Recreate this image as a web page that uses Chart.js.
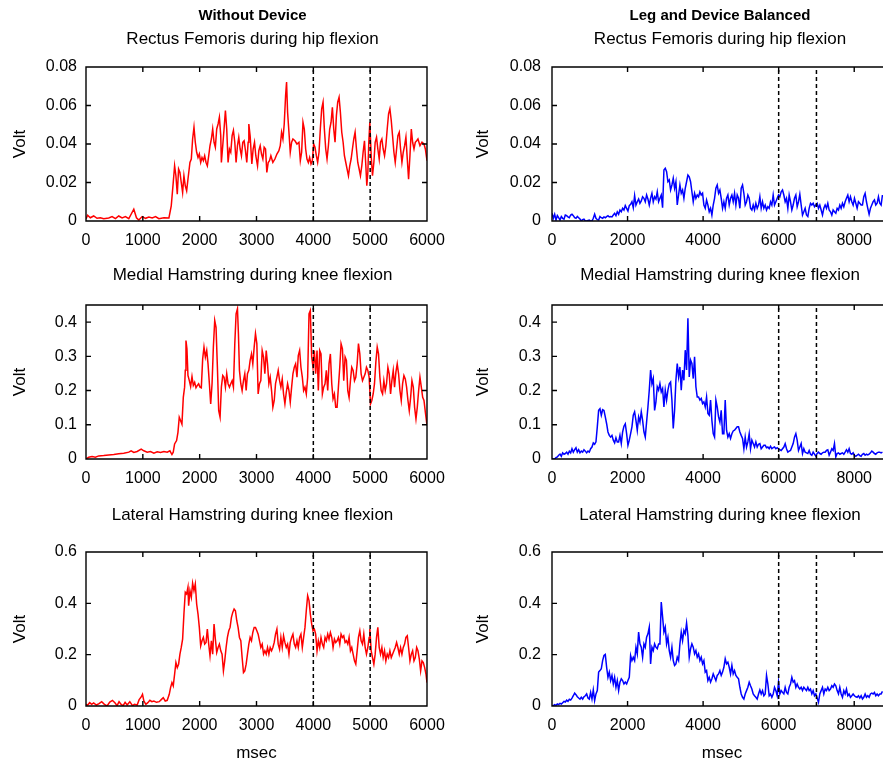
<!DOCTYPE html>
<html>
<head>
<meta charset="utf-8">
<script src="https://cdn.jsdelivr.net/npm/chart.js"></script>
<style>
  html, body { margin: 0; padding: 0; overflow: hidden; background: #fff; }
  body { position: relative; width: 883px; height: 766px; }
  canvas { position: absolute; }
</style>
</head>
<body>
<canvas id="rfWithout" width="460" height="258" style="left:0;top:0"></canvas>
<canvas id="rfBalanced" width="460" height="258" style="left:452px;top:0"></canvas>
<canvas id="mhWithout" width="460" height="240" style="left:0;top:258px"></canvas>
<canvas id="mhBalanced" width="460" height="240" style="left:452px;top:258px"></canvas>
<canvas id="lhWithout" width="460" height="268" style="left:0;top:498px"></canvas>
<canvas id="lhBalanced" width="460" height="268" style="left:452px;top:498px"></canvas>
<script>
// ---- EMG envelopes (Volt) ----

// Without device: sample times (msec) and values
const rfWithoutMs = [0,29,76,135,194,253,312,400,459,518,576,635,694,753,794,841,888,929,988,1047,1106,1165,1224,1282,1371,1459,1500,1535,1559,1582,1606,1629,1653,1676,1700,1723,1747,1771,1794,1829,1853,1876,1900,1923,1947,1971,1994,2018,2041,2065,2088,2112,2135,2159,2182,2206,2229,2253,2276,2300,2324,2347,2371,2382,2406,2429,2453,2476,2500,2524,2547,2571,2594,2618,2641,2665,2688,2712,2735,2759,2782,2806,2829,2853,2865,2888,2918,2941,2965,2988,3018,3041,3065,3088,3112,3135,3159,3182,3206,3229,3253,3288,3324,3359,3394,3418,3441,3465,3488,3512,3529,3547,3571,3594,3618,3641,3676,3712,3747,3771,3794,3818,3841,3865,3888,3912,3935,3959,3982,4006,4029,4053,4076,4100,4123,4147,4171,4194,4218,4241,4265,4288,4312,4335,4359,4382,4406,4429,4453,4476,4500,4524,4547,4571,4594,4618,4641,4665,4688,4712,4735,4759,4782,4806,4829,4853,4876,4900,4924,4941,4959,4976,4994,5018,5041,5065,5088,5112,5135,5159,5182,5206,5229,5253,5276,5300,5324,5347,5371,5394,5418,5441,5465,5488,5512,5535,5559,5582,5606,5629,5653,5676,5700,5724,5747,5771,5794,5818,5841,5876,5912,5947,5971,6000];
const rfWithoutVolt = [0.001,0.003,0.0017,0.0026,0.0014,0.0017,0.0012,0.0016,0.0023,0.0012,0.0026,0.0016,0.0023,0.0012,0.0035,0.0061,0.0017,0.0005,0.0023,0.0014,0.0021,0.0016,0.0023,0.0012,0.0017,0.0016,0.0078,0.020,0.0287,0.0235,0.0139,0.027,0.0252,0.020,0.0148,0.0235,0.0183,0.0157,0.0217,0.0304,0.0322,0.0426,0.0487,0.0409,0.0357,0.033,0.0348,0.0304,0.033,0.0313,0.0339,0.0304,0.0287,0.0339,0.0391,0.0426,0.0478,0.0409,0.0383,0.0478,0.0504,0.0539,0.0443,0.0304,0.0391,0.0478,0.0574,0.0478,0.0304,0.0374,0.0357,0.0443,0.047,0.0409,0.0304,0.0391,0.0435,0.0374,0.0339,0.0409,0.0417,0.0365,0.0304,0.0409,0.0504,0.0443,0.0296,0.0374,0.0409,0.0339,0.0287,0.0365,0.0391,0.0348,0.0322,0.0383,0.0374,0.0252,0.0304,0.0313,0.0339,0.0304,0.0322,0.0348,0.0365,0.0391,0.0461,0.0426,0.0504,0.0652,0.0722,0.0565,0.0461,0.0357,0.0409,0.0426,0.0417,0.040,0.0409,0.0313,0.0357,0.0513,0.0478,0.0374,0.0322,0.0304,0.033,0.0296,0.0313,0.040,0.0383,0.0339,0.0304,0.0357,0.0478,0.0583,0.0617,0.0478,0.0374,0.0322,0.0391,0.0478,0.0513,0.0591,0.0478,0.0409,0.0548,0.0617,0.0643,0.0565,0.0461,0.0409,0.0339,0.0304,0.027,0.0235,0.0287,0.0322,0.0374,0.0426,0.0461,0.0374,0.0304,0.027,0.0235,0.0287,0.0357,0.0417,0.0287,0.0183,0.0252,0.0409,0.0513,0.0339,0.0235,0.0304,0.0409,0.0435,0.0374,0.0322,0.0409,0.0426,0.0374,0.0339,0.0391,0.0478,0.0557,0.0583,0.0522,0.0443,0.0357,0.0304,0.0374,0.0443,0.0461,0.0374,0.0304,0.0357,0.0391,0.0435,0.0322,0.0217,0.0339,0.0478,0.0409,0.0374,0.0409,0.0417,0.0426,0.0391,0.0409,0.040,0.0374,0.0313];

const mhWithoutMs = [0,47,106,165,224,312,400,488,576,665,753,794,841,900,971,1018,1076,1135,1194,1253,1312,1371,1429,1476,1512,1535,1559,1594,1618,1641,1665,1688,1712,1735,1747,1759,1776,1794,1818,1841,1865,1888,1912,1935,1959,1982,2006,2029,2053,2076,2100,2124,2147,2171,2194,2218,2241,2265,2288,2312,2335,2359,2382,2406,2429,2453,2476,2500,2524,2547,2571,2594,2618,2641,2665,2682,2700,2724,2747,2771,2794,2818,2841,2865,2888,2912,2935,2959,2982,3006,3029,3053,3076,3100,3124,3147,3171,3194,3218,3241,3265,3288,3312,3335,3359,3382,3406,3429,3453,3476,3500,3524,3547,3571,3594,3618,3641,3665,3688,3712,3735,3759,3782,3806,3829,3853,3876,3900,3924,3947,3971,3994,4018,4041,4065,4088,4112,4135,4159,4182,4206,4229,4253,4276,4300,4324,4347,4371,4394,4418,4441,4465,4488,4512,4535,4559,4582,4606,4629,4653,4676,4700,4724,4747,4771,4794,4818,4841,4865,4888,4912,4935,4959,4982,5006,5029,5053,5076,5100,5124,5147,5171,5194,5218,5241,5265,5288,5312,5335,5359,5382,5406,5429,5453,5476,5500,5524,5547,5571,5594,5618,5641,5665,5688,5712,5735,5759,5782,5806,5829,5853,5876,5900,5924,5947,5971,6000];
const mhWithoutVolt = [0,0.005,0.007,0.005,0.009,0.010,0.012,0.013,0.015,0.017,0.020,0.024,0.019,0.022,0.029,0.024,0.020,0.022,0.017,0.021,0.019,0.022,0.020,0.024,0.013,0.020,0.044,0.054,0.078,0.122,0.112,0.102,0.180,0.210,0.259,0.346,0.322,0.244,0.229,0.212,0.241,0.215,0.224,0.208,0.215,0.220,0.210,0.208,0.293,0.327,0.298,0.317,0.278,0.220,0.161,0.220,0.327,0.405,0.385,0.268,0.141,0.122,0.210,0.244,0.239,0.210,0.249,0.220,0.210,0.220,0.229,0.210,0.337,0.424,0.439,0.366,0.259,0.220,0.200,0.229,0.249,0.200,0.249,0.259,0.288,0.307,0.278,0.327,0.366,0.337,0.190,0.220,0.229,0.317,0.298,0.249,0.317,0.278,0.220,0.239,0.200,0.151,0.171,0.220,0.239,0.259,0.229,0.210,0.234,0.190,0.161,0.195,0.220,0.200,0.166,0.210,0.249,0.268,0.278,0.239,0.302,0.317,0.268,0.239,0.200,0.210,0.190,0.239,0.424,0.434,0.298,0.268,0.317,0.249,0.317,0.200,0.317,0.307,0.190,0.210,0.220,0.259,0.200,0.278,0.307,0.220,0.176,0.190,0.151,0.151,0.210,0.268,0.337,0.322,0.229,0.298,0.288,0.200,0.180,0.229,0.268,0.259,0.229,0.239,0.278,0.337,0.307,0.249,0.229,0.239,0.249,0.268,0.259,0.239,0.161,0.171,0.190,0.220,0.283,0.327,0.307,0.239,0.200,0.190,0.229,0.200,0.220,0.268,0.249,0.190,0.229,0.259,0.210,0.254,0.278,0.249,0.200,0.171,0.220,0.244,0.234,0.210,0.171,0.141,0.180,0.229,0.210,0.151,0.117,0.151,0.200,0.239,0.210,0.180,0.171,0.137,0.098];

const lhWithoutMs = [0,29,65,100,135,182,229,276,324,371,418,465,512,547,582,618,653,688,724,771,818,853,900,935,971,994,1018,1053,1088,1124,1159,1194,1241,1288,1324,1359,1394,1429,1465,1488,1512,1535,1559,1582,1606,1629,1653,1676,1700,1723,1747,1771,1794,1806,1829,1853,1876,1900,1923,1947,1971,1994,2018,2041,2065,2088,2112,2135,2159,2182,2206,2229,2253,2276,2300,2324,2347,2371,2394,2418,2441,2465,2488,2512,2535,2559,2582,2606,2629,2653,2676,2700,2724,2747,2771,2794,2818,2841,2865,2888,2912,2935,2959,2982,3006,3029,3053,3076,3100,3124,3147,3171,3194,3218,3241,3265,3288,3312,3335,3359,3382,3406,3429,3453,3476,3500,3524,3547,3571,3594,3618,3641,3665,3688,3712,3735,3759,3782,3806,3829,3853,3876,3900,3924,3947,3971,3994,4018,4041,4065,4088,4112,4135,4159,4182,4206,4229,4253,4276,4300,4324,4347,4371,4394,4418,4441,4465,4488,4512,4535,4559,4582,4606,4629,4653,4676,4700,4724,4747,4771,4794,4818,4841,4865,4888,4912,4935,4959,4982,4994,5018,5041,5065,5088,5112,5135,5159,5182,5206,5229,5253,5276,5300,5324,5347,5371,5394,5418,5441,5465,5488,5512,5535,5559,5582,5606,5629,5653,5676,5700,5724,5747,5771,5794,5818,5841,5865,5888,5912,5935,5959,5982,6000];
const lhWithoutVolt = [0.0065,0.0039,0.013,0.0065,0.0117,0.0039,0.0091,0.0169,0.0065,0,0.0156,0.0221,0.0117,0.0013,0.0169,0.0065,0.0013,0.0143,0.0039,0.0169,0.0013,0.0065,0.0039,0.0248,0.0352,0.0456,0.0195,0.0065,0.013,0.0221,0.0169,0.0195,0.0143,0.0169,0.0248,0.0326,0.0195,0.0221,0.0456,0.0717,0.0912,0.0782,0.1238,0.1694,0.1498,0.1629,0.202,0.228,0.2606,0.3583,0.443,0.4365,0.4625,0.3909,0.4495,0.4235,0.4782,0.4495,0.4756,0.3974,0.3583,0.3062,0.2345,0.2541,0.2671,0.241,0.2476,0.2997,0.241,0.1954,0.2541,0.202,0.3192,0.2606,0.2085,0.228,0.241,0.215,0.202,0.1368,0.1759,0.228,0.2671,0.2932,0.3062,0.3453,0.3648,0.3779,0.3713,0.3322,0.3062,0.2671,0.2541,0.1889,0.1303,0.1368,0.1629,0.202,0.241,0.2671,0.2541,0.2866,0.3062,0.3062,0.2932,0.2801,0.2541,0.228,0.241,0.202,0.215,0.202,0.228,0.202,0.228,0.215,0.228,0.2476,0.2801,0.2997,0.241,0.2215,0.2671,0.228,0.2736,0.2476,0.228,0.241,0.202,0.2476,0.2671,0.2801,0.241,0.228,0.2541,0.228,0.2671,0.2801,0.228,0.2671,0.3062,0.3713,0.43,0.4104,0.3583,0.3192,0.2932,0.2997,0.2801,0.215,0.2541,0.228,0.2671,0.241,0.228,0.2671,0.2541,0.2801,0.2606,0.2866,0.2671,0.228,0.2606,0.2476,0.2541,0.2671,0.241,0.2801,0.2671,0.2736,0.2476,0.2541,0.241,0.2671,0.215,0.228,0.202,0.1759,0.1629,0.215,0.2671,0.2932,0.2541,0.241,0.2801,0.228,0.202,0.228,0.2671,0.2997,0.215,0.1889,0.1629,0.202,0.2671,0.3062,0.228,0.202,0.228,0.1889,0.215,0.1759,0.202,0.1889,0.215,0.1889,0.202,0.215,0.228,0.2476,0.228,0.202,0.228,0.202,0.228,0.241,0.2671,0.2736,0.228,0.1759,0.202,0.215,0.1759,0.1889,0.228,0.215,0.1824,0.1368,0.1759,0.1694,0.1498,0.1238,0.0912];

// Leg and device balanced: evenly sampled, one value every balancedStepMs
const balancedStepMs = 35.27;
const rfBalancedVolt = [0.004,0.0014,0.0035,0.0005,0.0028,0.0017,0.0005,0.0023,0.0014,0.001,0.0031,0.0028,0.0021,0.0017,0.0031,0.0035,0.0028,0.0017,0.0014,0.0024,0.0017,0.001,0,0.0007,0.001,0,0,0.0003,0.0005,0,0,0.0014,0.0035,0.0014,0.0007,0.0005,0.0023,0.0017,0.0014,0.0021,0.0017,0.0023,0.0028,0.0021,0.0023,0.0021,0.0031,0.004,0.0028,0.0048,0.0035,0.0057,0.0048,0.0066,0.0057,0.008,0.0066,0.0052,0.008,0.0087,0.01,0.0069,0.0132,0.0083,0.01,0.0114,0.0092,0.0104,0.0126,0.0118,0.01,0.0135,0.0114,0.0083,0.0118,0.0144,0.01,0.0126,0.0114,0.0152,0.01,0.0118,0.0135,0.0069,0.0265,0.0274,0.0256,0.0204,0.0213,0.0161,0.0187,0.0222,0.017,0.0204,0.0083,0.0135,0.0187,0.0144,0.0161,0.0118,0.017,0.0204,0.0239,0.023,0.0204,0.0152,0.01,0.0144,0.0118,0.0135,0.0126,0.0152,0.0135,0.0144,0.0083,0.0066,0.0109,0.0083,0.0048,0.0066,0.0031,0.0083,0.0118,0.017,0.0187,0.0144,0.0161,0.0118,0.0066,0.01,0.0066,0.0118,0.0135,0.0083,0.0118,0.0135,0.01,0.0144,0.0083,0.0135,0.0118,0.0066,0.017,0.0187,0.0144,0.0083,0.01,0.0135,0.0118,0.0066,0.0057,0.0083,0.0057,0.0092,0.0066,0.0083,0.0126,0.0066,0.01,0.0066,0.0083,0.0057,0.0074,0.0066,0.01,0.0083,0.0135,0.0083,0.01,0.0118,0.0135,0.0126,0.0152,0.0161,0.0135,0.01,0.0118,0.0066,0.0135,0.01,0.0057,0.0083,0.0118,0.0135,0.0074,0.01,0.0139,0.0083,0.0031,0.0048,0.0066,0.0031,0.0023,0.0066,0.0092,0.0083,0.0092,0.0074,0.0083,0.0092,0.0066,0.0083,0.0057,0.0031,0.0066,0.0083,0.0066,0.0092,0.0057,0.0048,0.0031,0.0057,0.0048,0.004,0.0066,0.0057,0.0083,0.0066,0.0092,0.0074,0.01,0.0118,0.0135,0.01,0.0126,0.01,0.0083,0.0118,0.0092,0.0066,0.01,0.0092,0.0083,0.0083,0.0126,0.0144,0.01,0.0066,0.0035,0.0066,0.0083,0.01,0.0109,0.0083,0.0092,0.0126,0.0092,0.0083,0.0135];
const mhBalancedVolt = [0,0,0,0.004,0.006,0.011,0.014,0.008,0.018,0.014,0.016,0.020,0.014,0.023,0.018,0.030,0.020,0.027,0.033,0.020,0.027,0.018,0.023,0.020,0.027,0.023,0.018,0.023,0.020,0.030,0.035,0.047,0.043,0.050,0.094,0.142,0.147,0.128,0.144,0.142,0.123,0.103,0.079,0.069,0.064,0.069,0.055,0.047,0.062,0.050,0.050,0.069,0.045,0.079,0.096,0.103,0.074,0.040,0.055,0.074,0.094,0.128,0.138,0.113,0.084,0.123,0.108,0.138,0.113,0.079,0.064,0.108,0.152,0.201,0.260,0.220,0.235,0.142,0.167,0.211,0.201,0.220,0.196,0.206,0.152,0.201,0.172,0.201,0.220,0.225,0.172,0.089,0.142,0.230,0.279,0.240,0.269,0.201,0.260,0.230,0.318,0.260,0.411,0.240,0.289,0.279,0.235,0.299,0.211,0.181,0.181,0.172,0.177,0.162,0.167,0.152,0.181,0.133,0.128,0.172,0.113,0.074,0.064,0.172,0.152,0.123,0.108,0.142,0.074,0.074,0.172,0.084,0.064,0.074,0.060,0.074,0.082,0.084,0.089,0.094,0.094,0.079,0.069,0.060,0.030,0.064,0.035,0.050,0.074,0.030,0.055,0.045,0.035,0.050,0.035,0.043,0.045,0.030,0.035,0.040,0.040,0.033,0.035,0.030,0.037,0.030,0.033,0.035,0.030,0.033,0.030,0.027,0.025,0.030,0.035,0.045,0.030,0.020,0.023,0.025,0.035,0.045,0.064,0.074,0.055,0.025,0.035,0.045,0.016,0.030,0.020,0.018,0.016,0.025,0.014,0.011,0.020,0.014,0.008,0.016,0.020,0.016,0.014,0.018,0.020,0.020,0.025,0.027,0.011,0.020,0.030,0.025,0.045,0.006,0.016,0.018,0.014,0.016,0.018,0.014,0.020,0.027,0.020,0.030,0.016,0.014,0.018,0.011,0.008,0.011,0.014,0.010,0.008,0.014,0.016,0.011,0.014,0.012,0.014,0.018,0.023,0.020,0.016,0.014,0.018,0.020,0.020,0.018,0.020];
const lhBalancedVolt = [0,0.0013,0.0052,0.0026,0.0078,0.0052,0.0104,0.0078,0.013,0.018,0.0156,0.023,0.018,0.026,0.023,0.031,0.040,0.050,0.044,0.036,0.031,0.027,0.034,0.027,0.036,0.040,0.047,0.031,0.027,0.053,0.027,0.063,0.021,0.047,0.060,0.132,0.138,0.145,0.177,0.197,0.201,0.151,0.112,0.132,0.099,0.119,0.086,0.112,0.073,0.099,0.060,0.093,0.106,0.099,0.086,0.093,0.086,0.099,0.112,0.197,0.177,0.190,0.177,0.229,0.203,0.288,0.242,0.229,0.190,0.242,0.229,0.268,0.281,0.307,0.164,0.229,0.216,0.242,0.229,0.223,0.242,0.242,0.405,0.347,0.288,0.307,0.242,0.268,0.216,0.190,0.229,0.177,0.158,0.164,0.190,0.177,0.242,0.288,0.255,0.294,0.281,0.323,0.275,0.190,0.223,0.242,0.229,0.203,0.216,0.190,0.203,0.177,0.190,0.164,0.177,0.132,0.138,0.099,0.112,0.093,0.106,0.125,0.112,0.099,0.119,0.125,0.138,0.119,0.132,0.151,0.184,0.164,0.171,0.151,0.125,0.158,0.125,0.138,0.119,0.112,0.106,0.073,0.047,0.034,0.027,0.047,0.060,0.073,0.093,0.079,0.066,0.047,0.040,0.034,0.027,0.047,0.063,0.047,0.060,0.040,0.047,0.119,0.086,0.040,0.047,0.034,0.047,0.073,0.060,0.040,0.093,0.047,0.060,0.053,0.047,0.073,0.053,0.047,0.073,0.086,0.112,0.093,0.099,0.073,0.086,0.073,0.066,0.073,0.060,0.073,0.066,0.060,0.073,0.060,0.066,0.047,0.060,0.040,0.047,0.031,0.0143,0.047,0.060,0.073,0.047,0.066,0.060,0.073,0.060,0.066,0.079,0.073,0.086,0.079,0.060,0.047,0.073,0.047,0.034,0.060,0.047,0.066,0.040,0.047,0.034,0.040,0.047,0.040,0.036,0.034,0.040,0.031,0.040,0.027,0.034,0.047,0.034,0.040,0.034,0.047,0.050,0.047,0.053,0.040,0.047,0.040,0.047,0.047,0.057];

// event markers (msec)
const withoutMarkers = [4000, 5000];
const balancedMarkers = [6000, 7000];

// x tick positions (msec)
const withoutTicks = [0, 1000, 2000, 3000, 4000, 5000, 6000];
const balancedTicks = [0, 2000, 4000, 6000, 8000];

const FONT = '"Liberation Sans", Arial, Helvetica, sans-serif';

function pairUp(times, volts) {
  return times.map((t, i) => ({ x: t, y: volts[i] }));
}

function evenlySampled(volts, stepMs) {
  return volts.map((v, i) => ({ x: i * stepMs, y: v }));
}

// box with inward ticks on all four sides, plus the panel titles
const frame = {
  id: 'frame',
  afterDatasetsDraw(chart, args, opts) {
    const { ctx, chartArea: a, scales: { x, y } } = chart;
    ctx.save();
    ctx.strokeStyle = '#000';
    ctx.lineWidth = 1.4;
    ctx.beginPath();
    x.ticks.forEach(t => {
      const px = x.getPixelForValue(t.value);
      ctx.moveTo(px, a.bottom); ctx.lineTo(px, a.bottom - 5);
      ctx.moveTo(px, a.top); ctx.lineTo(px, a.top + 5);
    });
    y.ticks.forEach(t => {
      const py = y.getPixelForValue(t.value);
      ctx.moveTo(a.left, py); ctx.lineTo(a.left + 5, py);
      ctx.moveTo(a.right, py); ctx.lineTo(a.right - 5, py);
    });
    ctx.rect(a.left, a.top, a.right - a.left, a.bottom - a.top);
    ctx.stroke();

    ctx.fillStyle = '#000';
    ctx.textAlign = 'center';
    ctx.textBaseline = 'middle';
    const cx = (a.left + a.right) / 2 + (opts.dx || 0);
    (opts.lines || []).forEach(l => {
      ctx.font = l.font;
      ctx.fillText(l.text, cx, l.y);
    });
    ctx.restore();
  }
};

function panel(id, p) {
  const markerSets = p.markers.map(m => ({
    data: [{ x: m, y: 0 }, { x: m, y: p.yMax }],
    borderColor: '#000',
    borderWidth: 1.5,
    borderDash: [4, 3],
    pointRadius: 0,
    order: 1
  }));

  new Chart(document.getElementById(id), {
    type: 'line',
    data: {
      datasets: [{
        data: p.points,
        borderColor: p.color,
        borderWidth: 1.5,
        pointRadius: 0,
        tension: 0,
        order: 2
      }, ...markerSets]
    },
    options: {
      responsive: false,
      animation: false,
      devicePixelRatio: 1,
      layout: { padding: { left: 0, right: p.right, top: p.top, bottom: 0 } },
      plugins: {
        legend: { display: false },
        tooltip: { enabled: false },
        frame: { lines: p.titles, dx: p.titleDx }
      },
      scales: {
        x: {
          type: 'linear',
          min: 0,
          max: p.xMax,
          afterBuildTicks: s => { s.ticks = p.xTicks.map(v => ({ value: v })); },
          afterFit: s => { s.height = p.xHeight; },
          grid: { display: false, drawTicks: false },
          border: { display: false },
          ticks: {
            autoSkip: false,
            maxRotation: 0,
            padding: 10,
            color: '#000',
            font: { family: FONT, size: 16 },
            callback: v => String(v)
          },
          title: {
            display: !!p.xTitle,
            text: p.xTitle || '',
            color: '#000',
            font: { family: FONT, size: 17 },
            padding: { top: 0, bottom: 2 }
          }
        },
        y: {
          min: 0,
          max: p.yMax,
          afterFit: s => { s.width = p.yWidth; },
          grid: { display: false, drawTicks: false },
          border: { display: false },
          ticks: {
            stepSize: p.yStep,
            includeBounds: false,
            padding: p.yPad,
            color: '#000',
            font: { family: FONT, size: 16 }
          },
          title: {
            display: true,
            text: 'Volt',
            color: '#000',
            font: { family: FONT, size: 17 },
            padding: { top: p.voltPad, bottom: 0 }
          }
        }
      }
    },
    plugins: [frame]
  });
}

const LEFT = { right: 33, yWidth: 86, yPad: 9, voltPad: 10, titleDx: -4, xMax: 6000, xTicks: withoutTicks, color: '#ff0000', markers: withoutMarkers };
const RIGHT = { right: 20, yWidth: 100, yPad: 11, voltPad: 21, titleDx: -2, xMax: 9000, xTicks: balancedTicks, color: '#0000ff', markers: balancedMarkers };
const TOP = { top: 67, xHeight: 37, yMax: 0.08, yStep: 0.02 };
const MID = { top: 47, xHeight: 39, yMax: 0.45, yStep: 0.1 };
const BOT = { top: 54, xHeight: 60, yMax: 0.6, yStep: 0.2, xTitle: 'msec' };

const bold = 'bold 15px ' + FONT;
const plain = '17px ' + FONT;

panel('rfWithout', { ...LEFT, ...TOP, points: pairUp(rfWithoutMs, rfWithoutVolt),
  titles: [{ text: 'Without Device', font: bold, y: 16 }, { text: 'Rectus Femoris during hip flexion', font: plain, y: 39 }] });
panel('rfBalanced', { ...RIGHT, ...TOP, points: evenlySampled(rfBalancedVolt, balancedStepMs),
  titles: [{ text: 'Leg and Device Balanced', font: bold, y: 16 }, { text: 'Rectus Femoris during hip flexion', font: plain, y: 39 }] });
panel('mhWithout', { ...LEFT, ...MID, points: pairUp(mhWithoutMs, mhWithoutVolt),
  titles: [{ text: 'Medial Hamstring during knee flexion', font: plain, y: 17 }] });
panel('mhBalanced', { ...RIGHT, ...MID, points: evenlySampled(mhBalancedVolt, balancedStepMs),
  titles: [{ text: 'Medial Hamstring during knee flexion', font: plain, y: 17 }] });
panel('lhWithout', { ...LEFT, ...BOT, points: pairUp(lhWithoutMs, lhWithoutVolt),
  titles: [{ text: 'Lateral Hamstring during knee flexion', font: plain, y: 17 }] });
panel('lhBalanced', { ...RIGHT, ...BOT, points: evenlySampled(lhBalancedVolt, balancedStepMs),
  titles: [{ text: 'Lateral Hamstring during knee flexion', font: plain, y: 17 }] });
</script>
</body>
</html>
